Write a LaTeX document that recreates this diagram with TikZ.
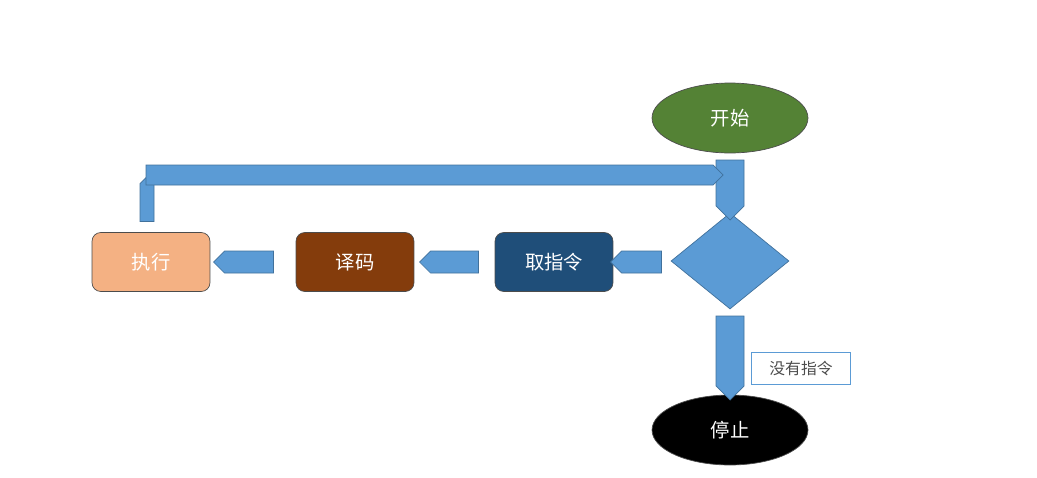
\documentclass[tikz,border=0pt]{standalone}
\usepackage{fontspec}
\setmainfont{Noto Sans CJK SC}
\usetikzlibrary{shapes.geometric,shapes.arrows}
\definecolor{ab}{HTML}{5B9BD5}
\definecolor{abd}{HTML}{41719C}
\begin{document}
\begin{tikzpicture}[x=0.02cm,y=-0.02cm,
  txt/.style={text=white,font=\fontsize{11}{13}\selectfont},
  box/.style={rounded corners=5pt,draw=black!70,line width=0.4pt,minimum width=2.36cm,minimum height=1.18cm,txt},
  ell/.style={ellipse,draw=black!70,minimum width=3.12cm,minimum height=1.4cm,txt},
  barr/.style n args={3}{single arrow,fill=ab,draw=abd,line width=0.4pt,inner sep=0,
     minimum height=#1*0.02cm,
     text width=0pt, text height=#2*0.02cm,
     minimum width=#3*0.02cm,single arrow head extend=0pt,single arrow tip angle=90}]
\useasboundingbox (0,0) rectangle (1037,477);
\node[ell,fill={rgb,255:red,84;green,130;blue,53}] (start) at (730,118) {开始};
\node[diamond,fill=ab,draw=abd,minimum width=2.36cm,minimum height=1.92cm,inner sep=0] (dec) at (730,261) {};
\node[box,fill={rgb,255:red,31;green,78;blue,121}] (fetch) at (554,262) {取指令};
\node[box,fill={rgb,255:red,132;green,60;blue,12}] (dec2) at (355,262) {译码};
\node[box,fill={rgb,255:red,244;green,177;blue,131}] (exe) at (151,262) {执行};
\node[ell,fill=black] (stop) at (730,430) {停止};
\node[draw=ab,line width=0.4pt,text=black!70,font=\fontsize{9}{11}\selectfont,minimum width=1.98cm,minimum height=0.64cm,inner sep=0] (lbl) at (801,368) {没有指令};
% block arrows
\node[barr={60}{14}{28},rotate=-90] (a1) at (730,183) {};
\node[barr={51}{11}{22},rotate=180] (a2) at (641.5,262) {};
\node[barr={59}{11}{22},rotate=180] (a3) at (454.5,262) {};
\node[barr={60}{11}{22},rotate=180] (a4) at (249,262) {};
\node[barr={45}{9}{14},rotate=90] (a5) at (147,202.5) {};
\node[barr={577}{10}{20}] (a6) at (429.5,175) {};
\node[barr={84}{14}{28},rotate=-90] (a7) at (730,351) {};
\end{tikzpicture}
\end{document}
